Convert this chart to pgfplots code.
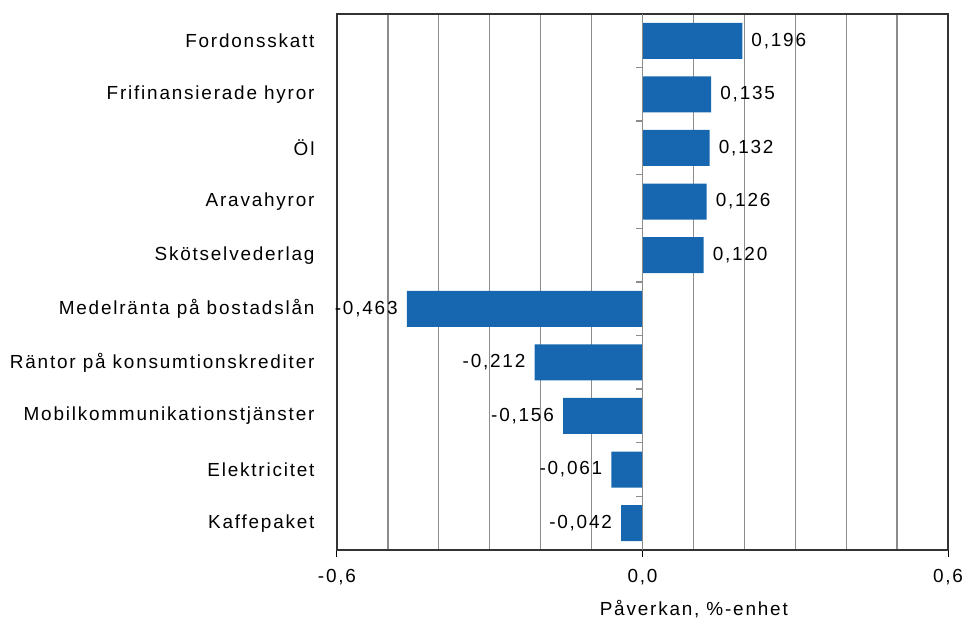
\documentclass[border=0pt]{standalone}
\usepackage{pgfplots}
\pgfplotsset{compat=1.18}
\usepackage{fontspec}
\setmainfont{Liberation Sans}[LetterSpace=9.5]
\definecolor{barblue}{RGB}{23,103,176}
\definecolor{gridgray}{RGB}{140,140,140}
\begin{document}
\begin{tikzpicture}
\begin{axis}[
  at={(0,0)}, anchor=south west,
  scale only axis,
  width=611bp, height=536bp,
  xbar, bar width=36bp,
  xmin=-0.6, xmax=0.6,
  ymin=-0.5, ymax=9.5,
  xtick={-0.6,0,0.6},
  minor xtick={-0.5,-0.4,-0.3,-0.2,-0.1,0.1,0.2,0.3,0.4,0.5},
  xminorgrids=true,
  minor grid style={gridgray, line width=1.2bp},
  minor tick length=0pt,
  major tick length=7bp,
  xtick align=outside,
  xtick pos=bottom,
  xtick style={black, line width=1bp},
  ytick={0,...,9},
  yticklabels={Kaffepaket,Elektricitet,Mobilkommunikationstjänster,Räntor på konsumtionskrediter,Medelränta på bostadslån,Skötselvederlag,Aravahyror,Öl,Frifinansierade hyror,Fordonsskatt},
  ytick style={draw=none},
  yticklabel style={font=\fontsize{19}{21}\selectfont, xshift=-12bp},
  xticklabel style={font=\fontsize{19}{21}\selectfont, yshift=-9bp,
    /pgf/number format/.cd, fixed, fixed zerofill, precision=1, use comma, assume math mode=true},
  axis line style={draw=black!80, line width=1.5bp},
  xlabel={Påverkan, \%-enhet},
  xlabel style={font=\fontsize{19}{21}\selectfont, at={(axis description cs:0.584,0)}, anchor=center, yshift=-59bp},
  nodes near coords,
  nodes near coords style={font=\fontsize{19}{21}\selectfont, inner xsep=9bp,
    /pgf/number format/.cd, fixed, fixed zerofill, precision=3, use comma, assume math mode=true},
  clip=false,
]
\addplot[fill=barblue, draw=none] coordinates {
  (-0.042,0) (-0.061,1) (-0.156,2) (-0.212,3) (-0.463,4)
  (0.120,5) (0.126,6) (0.132,7) (0.135,8) (0.196,9)
};
\draw[gridgray, line width=1.4bp] (axis cs:0,-0.5) -- (axis cs:0,9.5);
\pgfplotsinvokeforeach{0.5,1.5,2.5,3.5,4.5,5.5,6.5,7.5,8.5}{
  \draw[gridgray, line width=1.4bp] (axis cs:0,#1) -- ++(-7bp,0bp);
}
\end{axis}
\pgfresetboundingbox
\path (-337bp,-75bp) rectangle (631bp,550bp);
\end{tikzpicture}
\end{document}
